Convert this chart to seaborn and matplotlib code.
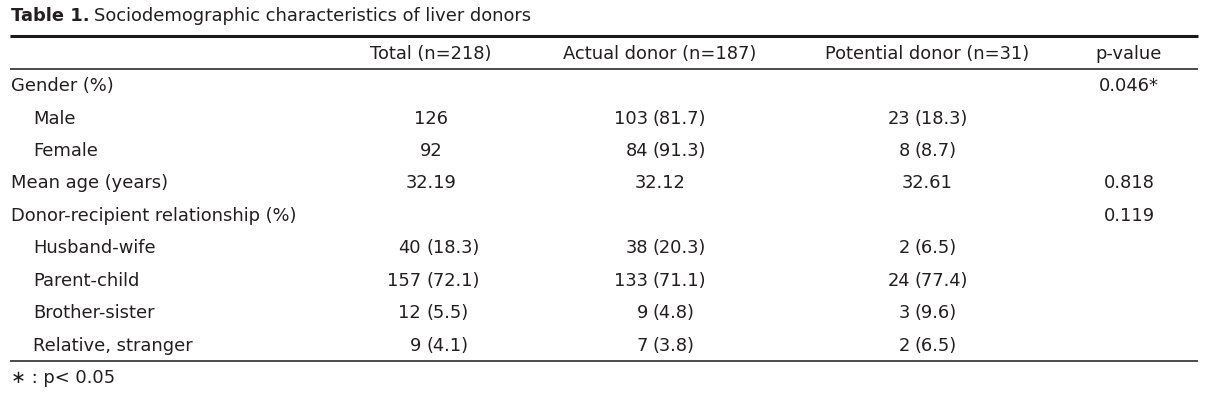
import matplotlib
matplotlib.use("Agg")
import matplotlib.pyplot as plt
import matplotlib.transforms as mtrans
import seaborn as sns

sns.set_theme(style="white")
plt.rcParams['font.family'] = ['DejaVu Sans']

title_bold = "Table 1."
title_rest = "Sociodemographic characteristics of liver donors"
headers = ["Total (n=218)", "Actual donor (n=187)", "Potential donor (n=31)", "p-value"]
row_labels = ["Gender (%)", "Male", "Female", "Mean age (years)",
              "Donor-recipient relationship (%)", "Husband-wife", "Parent-child",
              "Brother-sister", "Relative, stranger"]
row_indent = [False, True, True, False, False, True, True, True, True]
total_col = ["", "126", "92", "32.19", "", "40 (18.3)", "157 (72.1)", "12 (5.5)", "9 (4.1)"]
actual_col = ["", "103 (81.7)", "84 (91.3)", "32.12", "", "38 (20.3)", "133 (71.1)", "9 (4.8)", "7 (3.8)"]
potential_col = ["", "23 (18.3)", "8 (8.7)", "32.61", "", "2 (6.5)", "24 (77.4)", "3 (9.6)", "2 (6.5)"]
pvalue_col = ["0.046*", "", "", "0.818", "0.119", "", "", "", ""]
footnote = "\u2217 : p< 0.05"

W, H = 1208, 402
fig = plt.figure(figsize=(W / 100, H / 100), dpi=100)
ax = fig.add_axes([0, 0, 1, 1])
ax.set_xlim(0, W)
ax.set_ylim(H, 0)
ax.axis("off")

tc = "#231f20"
fs = 12.9

t1 = ax.text(11, 16, title_bold, fontsize=fs, fontweight="bold", color=tc, va="center", ha="left")
fig.canvas.draw()
bb = t1.get_window_extent()
ax.text(bb.x1 + 4, 16, title_rest, fontsize=fs, color=tc, va="center", ha="left",
        transform=mtrans.blended_transform_factory(mtrans.IdentityTransform(), ax.transData))

ax.hlines(37, 10, 1198, color="#1a1a1a", lw=2.2)
ax.hlines(70, 10, 1198, color="#1a1a1a", lw=1.1)
ax.hlines(362, 10, 1198, color="#1a1a1a", lw=1.1)

col_x = [431, 660, 927, 1129]
paren_x = [427, 653, 914, 1129]
gaps = [6, 5, 4, 4]
for x, h in zip(col_x, headers):
    ax.text(x, 54, h, fontsize=fs, color=tc, ha="center", va="center")

y0, dy = 86, 32.5
cols = [total_col, actual_col, potential_col, pvalue_col]
for i, lab in enumerate(row_labels):
    y = y0 + i * dy
    ax.text(33 if row_indent[i] else 11, y, lab, fontsize=fs, color=tc, ha="left", va="center")
    for x, px, g, col in zip(col_x, paren_x, gaps, cols):
        s = col[i]
        if not s:
            continue
        if " (" in s:
            num, rest = s.split(" ", 1)
            ax.text(px - g, y, num, fontsize=fs, color=tc, ha="right", va="center")
            ax.text(px, y, rest, fontsize=fs, color=tc, ha="left", va="center")
        else:
            ax.text(x, y, s, fontsize=fs, color=tc, ha="center", va="center")

ax.text(11, 378, footnote, fontsize=fs, color=tc, ha="left", va="center")

fig.savefig("out.png", dpi=100)
